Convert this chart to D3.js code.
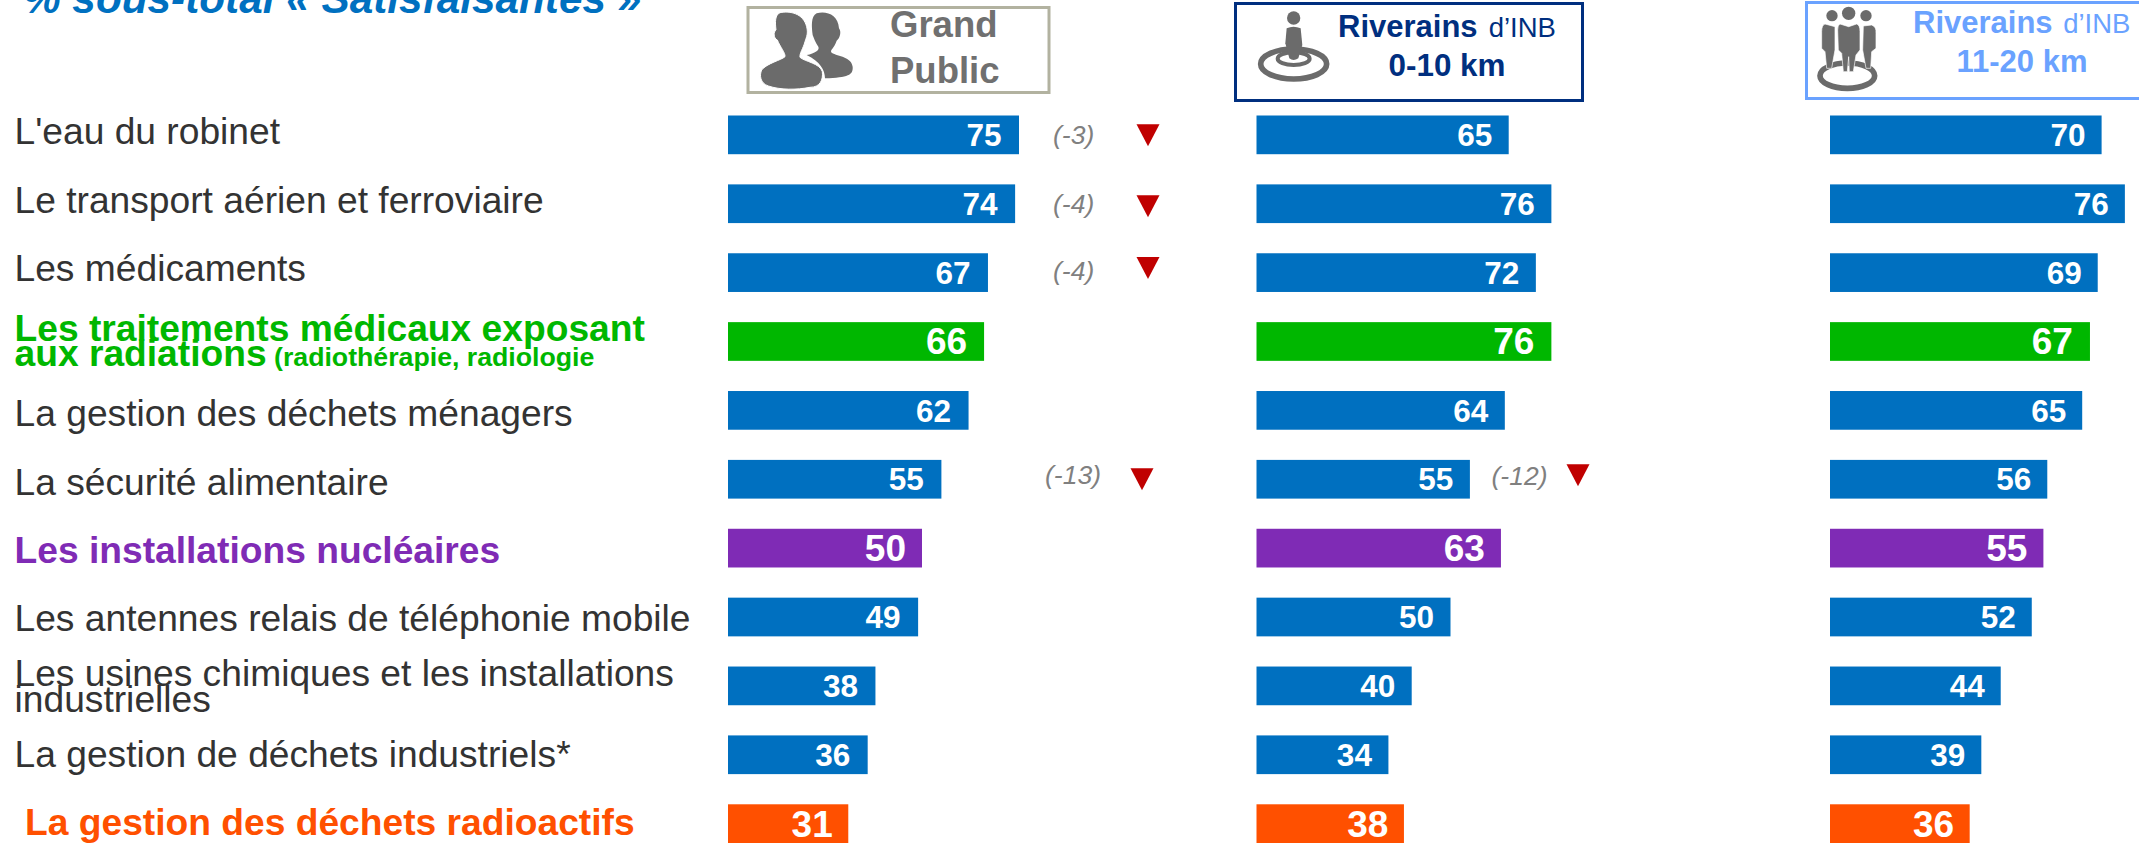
<!DOCTYPE html>
<html lang="fr">
<head>
<meta charset="utf-8">
<title>% sous-total « Satisfaisantes »</title>
<script src="https://cdn.jsdelivr.net/npm/d3@7/dist/d3.min.js"></script>
<style>
html,body{margin:0;padding:0;background:#fff;overflow:hidden}
svg{display:block;font-family:"Liberation Sans",Arial,sans-serif}
</style>
</head>
<body>
<svg id="chart" width="2139" height="843"></svg>
<script>
const categories = [
  "L'eau du robinet","Le transport aérien et ferroviaire","Les médicaments",
  "Les traitements médicaux exposant aux radiations","La gestion des déchets ménagers",
  "La sécurité alimentaire","Les installations nucléaires",
  "Les antennes relais de téléphonie mobile","Les usines chimiques et les installations industrielles",
  "La gestion de déchets industriels*","La gestion des déchets radioactifs"
];
const kinds = ["std","std","std","green","std","std","purple","std","std","std","orange"];
const grandPublic = [75,74,67,66,62,55,50,49,38,36,31];
const riverains010 = [65,76,72,76,64,55,63,50,40,34,38];
const riverains1120 = [70,76,69,67,65,56,55,52,44,39,36];
const deltaRows = ["L'eau du robinet","Le transport aérien et ferroviaire","Les médicaments","La sécurité alimentaire","La sécurité alimentaire"];
const deltaValues = ["(-3)","(-4)","(-4)","(-13)","(-12)"];

const barColor = {std:"#0070C0",green:"#00B700",purple:"#7F2BB5",orange:"#FF5000"};
const labelColor = {std:"#333333",green:"#00B700",purple:"#7F2BB5",orange:"#FF5000"};

const svg = d3.select("#chart");
const y = d3.scaleBand().domain(categories).range([115.5,843]).paddingInner(0.438).paddingOuter(0);
const x = d3.scaleLinear().domain([0,100]).range([0,388]);
const columns = [
  {left:728,values:grandPublic,nudge:1.5},
  {left:1256.5,values:riverains010,nudge:0.5},
  {left:1830,values:riverains1120,nudge:0}
];

// Title (clipped by the top edge as in the source)
svg.append("text").attr("x",23).attr("y",13)
  .attr("font-size",42.3).attr("font-weight","bold").attr("font-style","italic")
  .attr("fill","#0070C0").text("% sous-total « Satisfaisantes »");

// Row labels
const labelLayout = {
  0:[{dy:9.5}],1:[{dy:9.5}],2:[{dy:8}],
  3:[{dy:-0.5,t:"Les traitements médicaux exposant"},{dy:24.5,t:"aux radiations",small:"(radiothérapie, radiologie"}],
  4:[{dy:16}],5:[{dy:15.5}],6:[{dy:15}],7:[{dy:14}],
  8:[{dy:0.5,t:"Les usines chimiques et les installations"},{dy:26,t:"industrielles"}],
  9:[{dy:12}],10:[{dy:11.5,x:25}]
};
categories.forEach((c,i)=>{
  const k = kinds[i], bold = k!=="std";
  const cy = y(c)+y.bandwidth()/2;
  labelLayout[i].forEach(l=>{
    const t = svg.append("text").attr("x",l.x||14.5).attr("y",cy+l.dy)
      .attr("font-size",37.2).attr("font-weight",bold?"bold":"normal")
      .attr("fill",labelColor[k]).text(l.t||c);
    if(l.small) t.append("tspan").attr("font-size",26.7).text(" "+l.small);
  });
});

// Bars and values
columns.forEach(col=>{
  const rows = categories.map((c,i)=>({c,v:col.values[i],k:kinds[i]}));
  const g = svg.append("g").attr("transform",`translate(${col.left},0)`);
  g.selectAll("rect").data(rows).join("rect")
    .attr("x",0).attr("y",d=>y(d.c)).attr("width",d=>x(d.v)).attr("height",y.bandwidth())
    .attr("fill",d=>barColor[d.k]);
  g.selectAll("text").data(rows).join("text")
    .attr("x",d=>x(d.v)-(d.k==="std"?16+col.nudge:(d.k==="orange"?15.5:(d.k==="purple"?16:17))))
    .attr("y",d=>y(d.c)+y.bandwidth()/2+(d.k==="std"?11.2:13))
    .attr("text-anchor","end").attr("fill","#fff").attr("font-weight","bold")
    .attr("font-size",d=>d.k==="std"?31.5:37).text(d=>d.v);
});

// Variation annotations
const deltaLayout = [
  {tx:1053,dy:9,mx:1148,my:0.5},
  {tx:1053,dy:9,mx:1148,my:2.5},
  {tx:1053,dy:7.7,mx:1148,my:-4.5},
  {tx:1045,dy:5,mx:1142,my:0},
  {tx:1491.5,dy:5.5,mx:1578,my:-4}
];
const tri = d3.line();
deltaValues.forEach((v,i)=>{
  const cy = y(deltaRows[i])+y.bandwidth()/2, l = deltaLayout[i];
  svg.append("text").attr("x",l.tx).attr("y",cy+l.dy).attr("font-size",26.5)
    .attr("font-style","italic").attr("fill","#808080").text(v);
  const c = cy+l.my;
  svg.append("path").attr("fill","#C00000")
    .attr("d",tri([[l.mx-11.5,c-11],[l.mx+11.5,c-11],[l.mx,c+11]])+"Z");
});

// Header boxes
const iconGrey = "#6B6B6B";
function box(x0,y0,w,h,color,sw){
  svg.append("rect").attr("x",x0).attr("y",y0).attr("width",w).attr("height",h)
    .attr("fill","#fff").attr("stroke",color).attr("stroke-width",sw);
}
function line(x0,y0,parts,anchor){
  const t = svg.append("text").attr("x",x0).attr("y",y0).attr("text-anchor",anchor||"start");
  parts.forEach(p=>{
    const s = t.append("tspan").attr("font-size",p.s).attr("font-weight",p.b?"bold":"normal")
      .attr("fill",p.c).text(p.t);
    if(p.dx) s.attr("dx",p.dx);
  });
}

box(748,7.5,301,85,"#B2B2A0",3);
line(890,37,[{t:"Grand",s:36.5,b:1,c:"#707070"}]);
line(890,83,[{t:"Public",s:36.5,b:1,c:"#707070"}]);
const ic1 = svg.append("g").attr("transform","translate(740,0) scale(0.3333)");
ic1.append("path").attr("fill",iconGrey).attr("d","M230,40 C260,32 295,45 297,85 C305,95 300,115 290,122 C283,145 268,150 275,158 C295,170 335,170 338,200 C340,225 325,232 255,235 C255,210 240,185 200,165 C225,160 240,150 235,140 C225,125 222,115 218,105 C215,80 212,50 230,40 Z");
ic1.append("path").attr("fill",iconGrey).attr("stroke","#fff").attr("stroke-width",3).attr("d","M120,38 C150,32 190,40 200,80 C205,100 200,110 195,125 C190,145 178,160 180,172 C195,185 240,190 247,215 C250,240 240,262 210,262 C170,270 120,270 85,258 C60,250 58,225 65,210 C80,190 125,180 135,170 C137,160 120,140 112,120 C100,115 100,95 108,90 C105,65 105,45 120,38 Z");

const navy = "#002F7F";
box(1235.5,3.5,347,97,navy,3);
line(1338,36.7,[{t:"Riverains",s:31,b:1,c:navy},{t:" d’INB",s:27.5,c:navy,dx:3.5}]);
line(1447,76,[{t:"0-10 km",s:31.4,b:1,c:navy}],"middle");
const ic2 = svg.append("g").attr("transform","translate(1230,0) scale(0.3333)");
ic2.append("ellipse").attr("cx",191).attr("cy",192).attr("rx",99).attr("ry",45).attr("fill","none").attr("stroke",iconGrey).attr("stroke-width",17);
ic2.append("ellipse").attr("cx",191).attr("cy",176).attr("rx",48).attr("ry",19).attr("fill","none").attr("stroke",iconGrey).attr("stroke-width",12);
ic2.append("circle").attr("cx",191).attr("cy",54).attr("r",20).attr("fill",iconGrey);
ic2.append("path").attr("fill",iconGrey).attr("d","M170,85 Q190,75 212,85 L217,135 L205,175 Q190,185 178,175 L166,130 Z");

const sky = "#6AA2FF";
box(1806.5,2.5,340,96,sky,3);
line(1913,33,[{t:"Riverains",s:31,b:1,c:sky},{t:" d’INB",s:27.5,c:sky,dx:3}]);
line(2022,72,[{t:"11-20 km",s:31,b:1,c:sky}],"middle");
const ic3 = svg.append("g").attr("transform","translate(1790,0) scale(0.3333)");
ic3.append("ellipse").attr("cx",172).attr("cy",227).attr("rx",82).attr("ry",38).attr("fill","none").attr("stroke",iconGrey).attr("stroke-width",17);
[[126,47,17],[176,40,20],[228,47,17]].forEach(h=>ic3.append("circle").attr("cx",h[0]).attr("cy",h[1]).attr("r",h[2]).attr("fill",iconGrey));
["M105,72 Q95,75 95,95 L95,145 L105,155 L110,205 L125,205 L135,150 L135,80 Z",
 "M245,75 Q260,80 258,100 L258,145 L245,155 L242,205 L228,205 L218,150 L220,78 Z",
 "M150,72 L176,80 L200,72 Q210,75 210,95 L210,150 L198,165 L190,215 L178,215 L176,170 L172,215 L160,215 L155,160 L145,150 L143,90 Q143,75 150,72 Z"
].forEach(d=>ic3.append("path").attr("fill",iconGrey).attr("stroke","#fff").attr("stroke-width",2).attr("d",d));
</script>
</body>
</html>
